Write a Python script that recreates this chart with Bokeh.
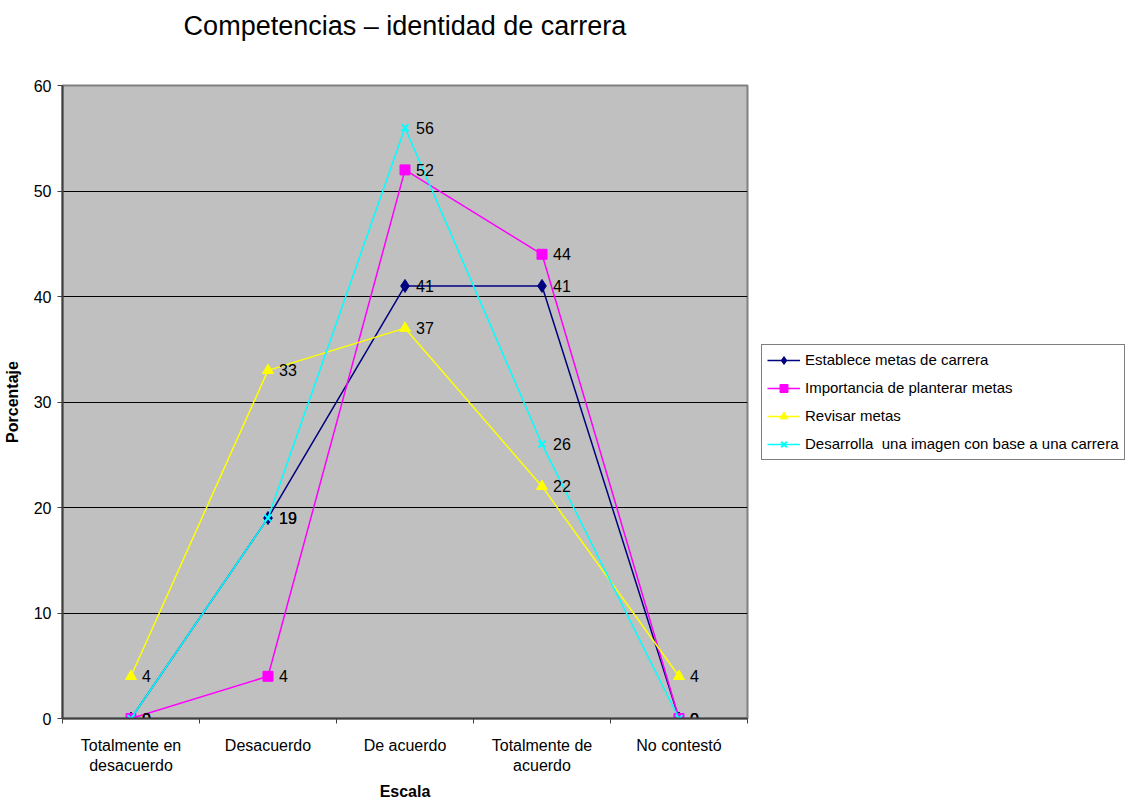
from bokeh.plotting import figure
from bokeh.models import ColumnDataSource, Range1d, FixedTicker, Legend, LegendItem, Title
from bokeh.core.properties import value
from bokeh.embed import file_html
from bokeh.resources import INLINE

categories = ["Totalmente en\ndesacuerdo", "Desacuerdo", "De acuerdo", "Totalmente de\nacuerdo", "No contestó"]
establece = [0, 19, 41, 41, 0]
importancia = [0, 4, 52, 44, 0]
revisar = [4, 33, 37, 22, 4]
desarrolla = [0, 19, 56, 26, 0]
series_names = ["Establece metas de carrera", "Importancia de planterar metas",
                "Revisar metas", "Desarrolla  una imagen con base a una carrera"]
y_ticks = [0, 10, 20, 30, 40, 50, 60]
title_text = "Competencias – identidad de carrera"

FONT = "Liberation Sans"
xpos = [i + 0.5 for i in range(len(categories))]

p = figure(output_backend="svg", toolbar_location=None,
           x_range=Range1d(0, len(categories)), y_range=Range1d(0, 60),
           frame_width=685, frame_height=633,
           min_border_left=60, min_border_top=85, min_border_right=0, min_border_bottom=80)

p.background_fill_color = "#C0C0C0"
p.border_fill_color = "white"
p.outline_line_color = "#808080"
p.outline_line_width = 2

p.title.text = ""
p.title.standoff = 0

spacer = Title(text=" ", text_font=FONT, text_font_size="35px", standoff=0)
main_title = Title(text=title_text, text_font=FONT, text_font_size="27px",
                   text_font_style="normal", text_color="black", align="center",
                   vertical_align="top", standoff=4)
p.add_layout(spacer, "above")
p.add_layout(main_title, "above")

# y axis
p.yaxis.ticker = FixedTicker(ticks=y_ticks)
p.yaxis.axis_label = "Porcentaje"
p.yaxis.axis_label_text_font = FONT
p.yaxis.axis_label_text_font_size = "16px"
p.yaxis.axis_label_text_font_style = "bold"
p.yaxis.axis_label_text_color = "black"
p.yaxis.axis_label_standoff = 10
p.yaxis.major_label_text_font = FONT
p.yaxis.major_label_text_font_size = "16px"
p.yaxis.major_label_text_color = "black"
p.yaxis.major_label_standoff = 6
p.yaxis.major_tick_out = 5
p.yaxis.major_tick_in = 0
p.yaxis.minor_tick_out = 0
p.yaxis.axis_line_color = "#404040"
p.yaxis.axis_line_width = 2
p.yaxis.major_tick_line_color = "#404040"

# x axis
p.xaxis.ticker = FixedTicker(ticks=xpos, minor_ticks=list(range(len(categories) + 1)))
p.xaxis.major_label_overrides = {x: c for x, c in zip(xpos, categories)}
p.xaxis.major_label_text_font = FONT
p.xaxis.major_label_text_font_size = "16px"
p.xaxis.major_label_text_color = "black"
p.xaxis.major_label_standoff = 13
p.xaxis.major_tick_out = 0
p.xaxis.major_tick_in = 0
p.xaxis.minor_tick_out = 5
p.xaxis.minor_tick_in = 0
p.xaxis.minor_tick_line_color = "#404040"
p.xaxis.axis_line_color = "#404040"
p.xaxis.axis_line_width = 2
p.xaxis.axis_label = "Escala"
p.xaxis.axis_label_text_font = FONT
p.xaxis.axis_label_text_font_size = "16px"
p.xaxis.axis_label_text_font_style = "bold"
p.xaxis.axis_label_text_color = "black"
p.xaxis.axis_label_standoff = 6

p.xgrid.visible = False
p.ygrid.ticker = FixedTicker(ticks=[10, 20, 30, 40, 50])
p.ygrid.grid_line_color = "black"
p.ygrid.grid_line_width = 1

specs = [
    (establece, "#000080", "diamond", 13),
    (importancia, "#FF00FF", "square", 10),
    (revisar, "#FFFF00", "triangle", 11),
    (desarrolla, "#00FFFF", "x", 10),
]

items = []
for name, (vals, color, marker, size) in zip(series_names, specs):
    src = ColumnDataSource(dict(x=xpos, y=vals))
    r1 = p.line("x", "y", source=src, line_color=color, line_width=1.5)
    if marker == "x":
        r2 = p.scatter("x", "y", source=src, marker=marker, size=size, line_color=color,
                       line_width=2)
    else:
        r2 = p.scatter("x", "y", source=src, marker=marker, size=size, fill_color=color,
                       line_color=color)
    items.append(LegendItem(label=name, renderers=[r1, r2]))

for vals in [establece, importancia, revisar, desarrolla]:
    src = ColumnDataSource(dict(x=xpos, y=vals, t=[str(v) for v in vals]))
    p.text("x", "y", text="t", source=src, x_offset=11, text_baseline="middle",
           text_align="left", text_font=value(FONT), text_font_size="16px", text_color="black")

lg = Legend(items=items, location="center_left")
lg.margin = 14
lg.padding = 5
lg.spacing = 8
lg.glyph_height = 20
lg.glyph_width = 33
lg.label_height = 20
lg.label_standoff = 5
lg.label_text_font = FONT
lg.label_text_font_size = "15px"
lg.label_text_color = "black"
lg.border_line_color = "black"
lg.border_line_width = 1
lg.background_fill_color = "white"
lg.background_fill_alpha = 1
p.add_layout(lg, "right")

open("out.html", "w").write(file_html(p, INLINE))
